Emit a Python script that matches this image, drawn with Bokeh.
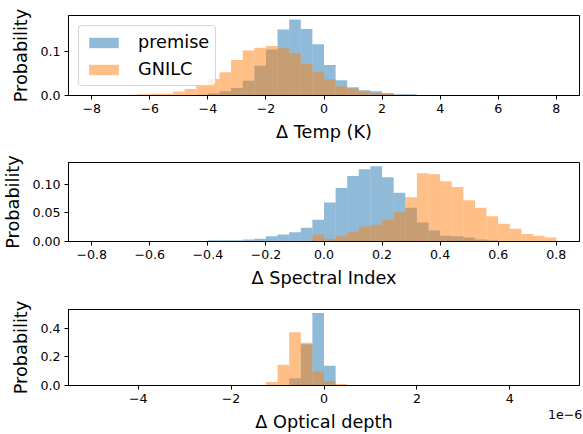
import numpy as np
from bokeh.plotting import figure
from bokeh.layouts import column
from bokeh.models import Range1d, FixedTicker, CustomJSTickFormatter, Label, Legend
from bokeh.embed import file_html
from bokeh.resources import INLINE

# ---------------- data (probability per bin, 40 bins per panel) ----------------
series_names = ["premise", "GNILC"]

# Delta Temp (K): bins of 0.4 starting at -8
temp_bin_start = -8.0
temp_bin_width = 0.4
temp_premise = [0, 0, 0, 0, 0, 0.001, 0.001, 0.001, 0.001, 0.002,
                0.005, 0.010, 0.017, 0.034, 0.068, 0.105, 0.151, 0.174, 0.152, 0.117,
                0.070, 0.035, 0.019, 0.012, 0.010, 0.005, 0.003, 0.003, 0.001, 0.001,
                0, 0, 0, 0, 0, 0, 0, 0, 0, 0]
temp_gnilc = [0, 0, 0, 0.002, 0.003, 0.004, 0.004, 0.009, 0.015, 0.024,
              0.038, 0.053, 0.081, 0.103, 0.109, 0.113, 0.108, 0.097, 0.072, 0.054,
              0.037, 0.021, 0.016, 0.009, 0.006, 0.006, 0.002, 0.001, 0.001, 0,
              0, 0, 0, 0, 0, 0, 0, 0, 0, 0]

# Delta Spectral Index: bins of 0.04 starting at -0.8
spec_bin_start = -0.8
spec_bin_width = 0.04
spec_premise = [0, 0, 0, 0, 0, 0, 0, 0, 0, 0,
                0.002, 0.002, 0.002, 0.0035, 0.005, 0.009, 0.012, 0.016, 0.024, 0.038,
                0.068, 0.093, 0.114, 0.126, 0.131, 0.112, 0.085, 0.059, 0.033, 0.019,
                0.010, 0.009, 0.007, 0.0035, 0.002, 0.001, 0, 0, 0, 0]
spec_gnilc = [0, 0, 0, 0, 0, 0, 0, 0, 0, 0,
              0, 0, 0, 0, 0, 0, 0, 0, 0, 0.012,
              0.005, 0.009, 0.017, 0.026, 0.029, 0.038, 0.051, 0.077, 0.119, 0.117,
              0.105, 0.095, 0.072, 0.059, 0.044, 0.031, 0.022, 0.013, 0.010, 0.007]

# Delta Optical depth: bins of 0.25e-6 starting at -5e-6
tau_bin_start = -5e-6
tau_bin_width = 0.25e-6
tau_premise = [0.001, 0.001, 0.001, 0.001, 0.001, 0.001, 0.001, 0.001, 0.001, 0.001,
               0.001, 0.001, 0.001, 0.001, 0.001, 0.001, 0.004, 0.051, 0.287, 0.504,
               0.138, 0.004, 0.001, 0.001, 0.001, 0.001, 0.001, 0.001, 0.001, 0.001,
               0.001, 0.001, 0.001, 0.001, 0.001, 0.001, 0.001, 0.001, 0.001, 0.001]
tau_gnilc = [0, 0, 0, 0, 0, 0, 0, 0, 0, 0,
             0, 0, 0, 0, 0, 0.024, 0.144, 0.371, 0.298, 0.098,
             0.031, 0.011, 0.004, 0, 0, 0, 0, 0, 0, 0,
             0, 0, 0, 0, 0, 0, 0, 0, 0, 0]

temp_xticks = [-8, -6, -4, -2, 0, 2, 4, 6, 8]
temp_yticks = [0.0, 0.1]
spec_xticks = [-0.8, -0.6, -0.4, -0.2, 0.0, 0.2, 0.4, 0.6, 0.8]
spec_yticks = [0.0, 0.05, 0.10]
tau_xticks = [-4e-6, -2e-6, 0.0, 2e-6, 4e-6]
tau_yticks = [0.0, 0.2, 0.4]
tau_offset_text = "1e\u22126"

# ---------------- styling ----------------
FONT = "DejaVu Sans"
TICK_FS = "12.6px"
LABEL_FS = "17.7px"
COLORS = ["#1f77b4", "#ff7f0e"]


def fmt(code):
    return CustomJSTickFormatter(code=code)


def make_panel(height, bottom, start, width, vals, xlim, ylim, xticks, yticks,
               xcode, ycode, xlabel):
    p = figure(width=583, height=height, output_backend="svg", toolbar_location=None,
               x_range=Range1d(*xlim), y_range=Range1d(*ylim),
               min_border_left=67, min_border_right=4, min_border_top=15,
               min_border_bottom=bottom)
    p.grid.visible = False
    p.outline_line_color = "black"
    p.outline_line_width = 1
    p.background_fill_color = "white"
    p.border_fill_color = "white"
    for v, name, c in zip(vals, series_names, COLORS):
        n = len(v)
        left = start + width * np.arange(n)
        right = left + width
        p.quad(left=left, right=right, bottom=0, top=np.array(v, dtype=float),
               fill_color=c, fill_alpha=0.5, line_color=None, legend_label=name)
    for ax in (p.xaxis[0], p.yaxis[0]):
        ax.axis_line_color = "black"
        ax.major_tick_line_color = "black"
        ax.major_tick_out = 4
        ax.major_tick_in = 0
        ax.minor_tick_line_color = None
        ax.major_label_text_font = FONT
        ax.major_label_text_font_size = TICK_FS
        ax.major_label_text_color = "black"
        ax.axis_label_text_font = FONT
        ax.axis_label_text_font_size = LABEL_FS
        ax.axis_label_text_font_style = "normal"
        ax.axis_label_text_color = "black"
        ax.major_label_standoff = 4
        ax.axis_label_standoff = 6
    p.xaxis[0].ticker = FixedTicker(ticks=xticks)
    p.yaxis[0].ticker = FixedTicker(ticks=yticks)
    p.xaxis[0].formatter = fmt(xcode)
    p.yaxis[0].formatter = fmt(ycode)
    p.xaxis[0].axis_label = xlabel
    p.yaxis[0].axis_label = "Probability"
    return p


minus = "replace('-', '\u2212')"

p1 = make_panel(147, 52, temp_bin_start, temp_bin_width, [temp_premise, temp_gnilc],
                (-8.8, 8.8), (0, 0.183), temp_xticks, temp_yticks,
                "return Math.round(tick).toString()." + minus + ";",
                "return tick.toFixed(1);", "\u0394 Temp (K)")
p2 = make_panel(147, 53, spec_bin_start, spec_bin_width, [spec_premise, spec_gnilc],
                (-0.88, 0.88), (0, 0.1376), spec_xticks, spec_yticks,
                "return tick.toFixed(1)." + minus + ";",
                "return tick.toFixed(2);", "\u0394 Spectral Index")
p3 = make_panel(140, 46, tau_bin_start, tau_bin_width, [tau_premise, tau_gnilc],
                (-5.5e-6, 5.5e-6), (0, 0.5292), tau_xticks, tau_yticks,
                "return Math.round(tick*1e6).toString()." + minus + ";",
                "return tick.toFixed(1);", "\u0394 Optical depth")

# legend only on first panel
for p in (p2, p3):
    p.legend.visible = False
lg = p1.legend[0]
lg.location = "top_left"
lg.margin = 10
lg.padding = 6
lg.spacing = 7
lg.glyph_width = 37
lg.glyph_height = 13
lg.label_height = 20
lg.label_standoff = 16
lg.label_text_font = FONT
lg.label_text_font_size = LABEL_FS
lg.label_text_color = "black"
lg.border_line_color = "#cccccc"
lg.border_line_alpha = 0.8
lg.background_fill_color = "white"
lg.background_fill_alpha = 0.8
if "border_radius" in Legend.properties():
    lg.border_radius = 4

# offset text for optical depth axis (placed in a side panel so it is not clipped;
# its position is given in data units so it sits below the axis at the right end)
p3.add_layout(Label(x=5.56e-6, y=-0.2, x_units="data", y_units="data",
                    text=tau_offset_text, text_align="right",
                    text_baseline="alphabetic", text_font=FONT,
                    text_font_size=TICK_FS, text_color="black"), "above")

layout = column(p1, p2, p3, spacing=0)
open("out.html", "w").write(file_html(layout, INLINE))
